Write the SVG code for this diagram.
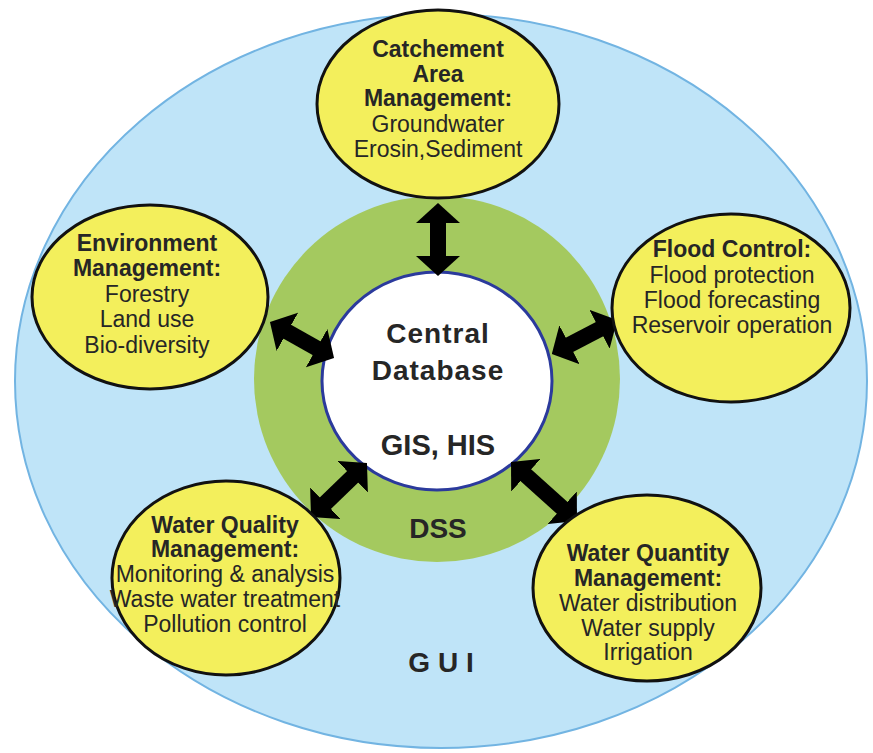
<svg xmlns="http://www.w3.org/2000/svg" width="873" height="753" viewBox="0 0 873 753">
<defs>
<style>
.t{font-family:"Liberation Sans",Arial,sans-serif;fill:#262626;text-anchor:middle}
.b{font-weight:bold}
.n{font-size:23px}
.node{fill:#f3ef5c;stroke:#111;stroke-width:3}
.arr{stroke:#000;stroke-width:16;fill:none;marker-start:url(#ah);marker-end:url(#ah)}
</style>
<marker id="ah" viewBox="0 0 20 44" markerWidth="20" markerHeight="44" refX="11" refY="22" orient="auto-start-reverse" markerUnits="userSpaceOnUse">
<path d="M0,0 L20,22 L0,44 Z" fill="#000"/>
</marker>
</defs>
<rect width="873" height="753" fill="#fff"/>
<g id="gui">
<ellipse cx="441" cy="381" rx="426" ry="367" fill="#bfe4f8" stroke="#72b4e2" stroke-width="2"/>
<text class="t b" x="441" y="672" font-size="28">G U I</text>
</g>
<g id="dss">
<circle cx="437" cy="379" r="183" fill="#a4c95f"/>
<text class="t b" x="438" y="538" font-size="28" fill="#333">DSS</text>
</g>
<g id="central">
<ellipse cx="437" cy="381" rx="115" ry="109" fill="#fff" stroke="#2b3a9c" stroke-width="3"/>
<text class="t b" x="438" y="343" font-size="28" letter-spacing="1">Central</text>
<text class="t b" x="438" y="380" font-size="28" letter-spacing="1">Database</text>
<text class="t b" x="438" y="455" font-size="29">GIS, HIS</text>
</g>
<g id="connectors">
<line class="arr" x1="438" y1="212" x2="438" y2="267"/>
<line class="arr" x1="277.8" y1="326.4" x2="326.2" y2="353.6"/>
<line class="arr" x1="559.8" y1="349.9" x2="609.2" y2="324.1"/>
<line class="arr" x1="360.5" y1="469.2" x2="317.5" y2="510.8"/>
<line class="arr" x1="517.7" y1="467.9" x2="570.3" y2="515.1"/>
</g>
<g id="catchment">
<ellipse class="node" cx="438" cy="104" rx="121" ry="94"/>
<text class="t b n" x="438" y="57">Catchement</text>
<text class="t b n" x="438" y="82">Area</text>
<text class="t b n" x="438" y="106">Management:</text>
<text class="t n" x="438" y="132">Groundwater</text>
<text class="t n" x="438" y="157">Erosin,Sediment</text>
</g>
<g id="environment">
<ellipse class="node" cx="150" cy="297" rx="118" ry="92"/>
<text class="t b n" x="147" y="251">Environment</text>
<text class="t b n" x="147" y="276">Management:</text>
<text class="t n" x="147" y="302">Forestry</text>
<text class="t n" x="147" y="327">Land use</text>
<text class="t n" x="147" y="353">Bio-diversity</text>
</g>
<g id="flood">
<ellipse class="node" cx="731" cy="308" rx="119" ry="94"/>
<text class="t b n" x="732" y="257">Flood Control:</text>
<text class="t n" x="732" y="283">Flood protection</text>
<text class="t n" x="732" y="308">Flood forecasting</text>
<text class="t n" x="732" y="333">Reservoir operation</text>
</g>
<g id="quality">
<ellipse class="node" cx="226" cy="578" rx="114" ry="97"/>
<text class="t b n" x="225" y="533">Water Quality</text>
<text class="t b n" x="225" y="557">Management:</text>
<text class="t n" x="225" y="582">Monitoring &amp; analysis</text>
<text class="t n" x="225" y="607">Waste water treatment</text>
<text class="t n" x="225" y="632">Pollution control</text>
</g>
<g id="quantity">
<ellipse class="node" cx="647" cy="588" rx="114" ry="93"/>
<text class="t b n" x="648" y="561">Water Quantity</text>
<text class="t b n" x="648" y="586">Management:</text>
<text class="t n" x="648" y="611">Water distribution</text>
<text class="t n" x="648" y="636">Water supply</text>
<text class="t n" x="648" y="660">Irrigation</text>
</g>
</svg>
